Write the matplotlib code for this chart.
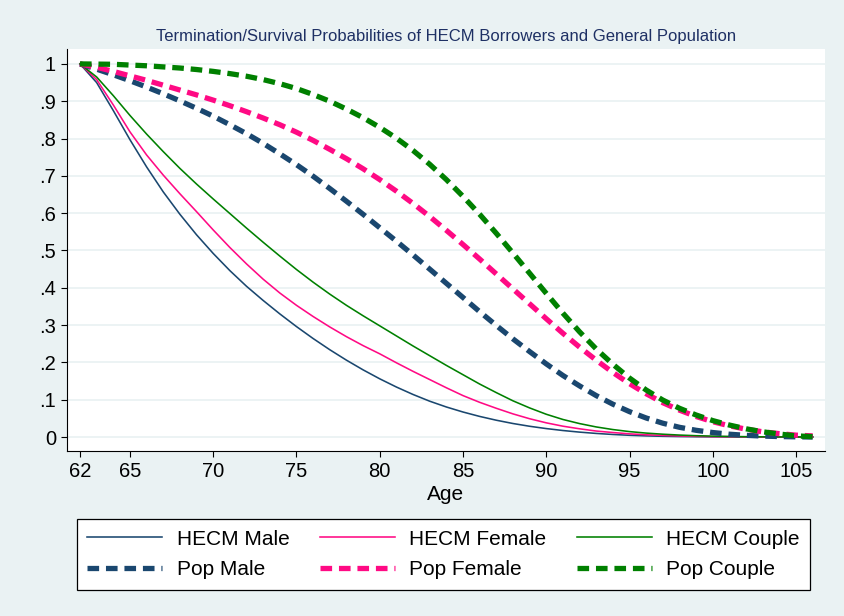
import matplotlib
matplotlib.use('Agg')
import matplotlib.pyplot as plt

plt.rcParams['font.family'] = ['Liberation Sans', 'DejaVu Sans']

# data
ages = list(range(62, 107))

hecm_male = [1.0, 0.95, 0.875, 0.797, 0.724, 0.657, 0.597, 0.542, 0.492, 0.446,
             0.404, 0.366, 0.33, 0.296, 0.264, 0.234, 0.206, 0.18, 0.156, 0.134,
             0.114, 0.096, 0.0805, 0.067, 0.0552, 0.045, 0.0362, 0.0288, 0.0226, 0.0174,
             0.0131, 0.0096, 0.0068, 0.0046, 0.003, 0.0019, 0.0012, 0.0007, 0.0004, 0.0002,
             0.0001, 0.0, 0.0, 0.0, 0.0]
hecm_female = [1.0, 0.958, 0.89, 0.818, 0.756, 0.702, 0.652, 0.604, 0.555, 0.508,
               0.464, 0.423, 0.386, 0.353, 0.323, 0.295, 0.269, 0.245, 0.223, 0.199,
               0.176, 0.154, 0.132, 0.111, 0.093, 0.077, 0.062, 0.049, 0.038, 0.029,
               0.022, 0.016, 0.012, 0.0085, 0.006, 0.0042, 0.0028, 0.0018, 0.0011, 0.0007,
               0.0004, 0.0002, 0.0001, 0.0, 0.0]
hecm_couple = [1.0, 0.965, 0.915, 0.862, 0.812, 0.765, 0.72, 0.678, 0.638, 0.599,
               0.56, 0.522, 0.485, 0.449, 0.415, 0.383, 0.353, 0.325, 0.298, 0.271,
               0.244, 0.218, 0.192, 0.167, 0.142, 0.119, 0.097, 0.078, 0.061, 0.047,
               0.036, 0.027, 0.02, 0.0145, 0.0105, 0.0075, 0.0052, 0.0035, 0.0023, 0.0015,
               0.0009, 0.0005, 0.0002, 0.0001, 0.0]
pop_male = [1.0, 0.986, 0.971, 0.955, 0.938, 0.92, 0.901, 0.881, 0.86, 0.837,
            0.813, 0.787, 0.759, 0.73, 0.699, 0.666, 0.632, 0.597, 0.561, 0.525,
            0.488, 0.45, 0.412, 0.374, 0.336, 0.299, 0.263, 0.229, 0.196, 0.165,
            0.137, 0.111, 0.088, 0.068, 0.051, 0.037, 0.026, 0.018, 0.012, 0.0075,
            0.0045, 0.0025, 0.0012, 0.0005, 0.0]
pop_female = [1.0, 0.991, 0.98, 0.968, 0.956, 0.943, 0.93, 0.917, 0.903, 0.888,
              0.872, 0.855, 0.837, 0.817, 0.795, 0.771, 0.746, 0.719, 0.69, 0.659,
              0.626, 0.591, 0.554, 0.516, 0.477, 0.437, 0.397, 0.357, 0.317, 0.278,
              0.241, 0.206, 0.173, 0.143, 0.116, 0.092, 0.072, 0.055, 0.041, 0.03,
              0.021, 0.014, 0.009, 0.005, 0.003]
pop_couple = [1.0, 0.9995, 0.999, 0.997, 0.995, 0.992, 0.989, 0.985, 0.98, 0.974,
              0.967, 0.958, 0.947, 0.934, 0.918, 0.9, 0.879, 0.856, 0.83, 0.801,
              0.768, 0.731, 0.69, 0.645, 0.597, 0.546, 0.493, 0.439, 0.385, 0.332,
              0.282, 0.236, 0.195, 0.158, 0.126, 0.099, 0.077, 0.059, 0.044, 0.032,
              0.022, 0.014, 0.008, 0.003, 0.001]

x_ticks = [62, 65, 70, 75, 80, 85, 90, 95, 100, 105]
y_ticks = [0, 0.1, 0.2, 0.3, 0.4, 0.5, 0.6, 0.7, 0.8, 0.9, 1]
y_labels = ['0', '.1', '.2', '.3', '.4', '.5', '.6', '.7', '.8', '.9', '1']

navy = '#1a476f'
pink = '#ff0a84'
green = '#008000'
bg = '#eaf2f3'

fig = plt.figure(figsize=(8.45, 6.16), dpi=100, facecolor=bg)
ax = fig.add_axes([67/845, 1 - 451/616, (825 - 67)/845, (451 - 49)/616])
ax.set_facecolor('white')

dash = (2.2, 1.3)
h1, = ax.plot(ages, hecm_male, color=navy, lw=1.15, label='HECM Male')
h2, = ax.plot(ages, hecm_female, color=pink, lw=1.15, label='HECM Female')
h3, = ax.plot(ages, hecm_couple, color=green, lw=1.15, label='HECM Couple')
h4, = ax.plot(ages, pop_male, color=navy, lw=3.8, ls=(0, dash), label='Pop Male')
h5, = ax.plot(ages, pop_female, color=pink, lw=3.8, ls=(0, dash), label='Pop Female')
h6, = ax.plot(ages, pop_couple, color=green, lw=3.8, ls=(0, dash), label='Pop Couple')

ax.set_xlim(61.22, 106.74)
ax.set_ylim(-0.0375, 1.04)
ax.set_xticks(x_ticks)
ax.set_yticks(y_ticks)
ax.set_yticklabels(y_labels)
ax.grid(axis='y', color=bg, lw=1.3)
ax.set_axisbelow(True)
for s in ['top', 'right']:
    ax.spines[s].set_visible(False)
for s in ['left', 'bottom']:
    ax.spines[s].set_color('black')
    ax.spines[s].set_linewidth(0.8)
ax.tick_params(labelsize=14.5, length=4.5, width=0.8, colors='black')
ax.set_xlabel('Age', fontsize=15, labelpad=3)
ax.set_title('Termination/Survival Probabilities of HECM Borrowers and General Population',
             fontsize=12, color='#1e3064', pad=6)

# legend fills column-wise, so order handles to get rows HECM / Pop
handles = [h1, h4, h2, h5, h3, h6]
leg = fig.legend(handles, [h.get_label() for h in handles], ncol=3, loc='center',
                 bbox_to_anchor=(443.5/845, 1 - 554.5/616), fontsize=15,
                 frameon=True, fancybox=False, edgecolor='black', facecolor='white',
                 framealpha=1, handlelength=3.6, handletextpad=0.7,
                 columnspacing=1.45, labelspacing=0.55, borderpad=0.5)
leg.get_frame().set_linewidth(0.9)

plt.savefig('out.png', dpi=100, facecolor=bg)
